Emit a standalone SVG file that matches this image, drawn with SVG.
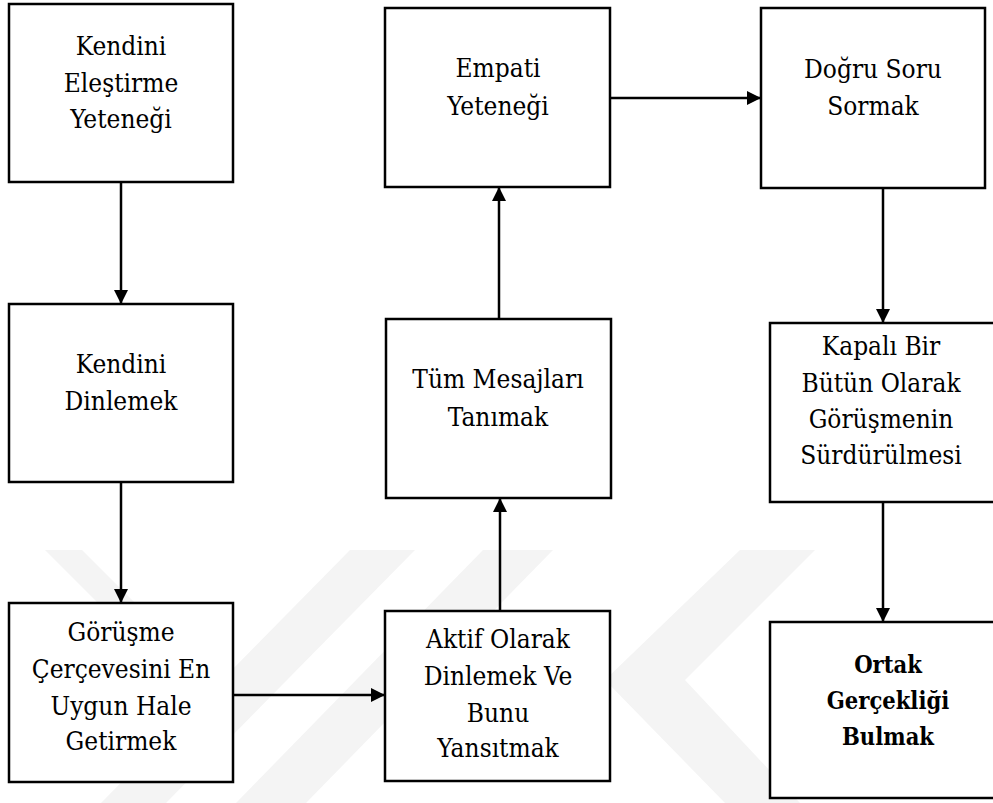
<svg xmlns="http://www.w3.org/2000/svg" width="993" height="803" viewBox="0 0 993 803">
  <style>
    .box { fill: #ffffff; stroke: #000000; stroke-width: 2.5; }
    .lbl { font-family: 'DejaVu Serif Condensed', 'DejaVu Serif', serif; font-stretch: condensed; font-size: 26px; fill: #000000; text-anchor: middle; }
    .bold { font-weight: bold; font-size: 23.5px; }
    .edge { stroke: #000000; stroke-width: 2.5; fill: none; marker-end: url(#arrow); }
    .wm { fill: #f4f4f4; }
  </style>
  <defs>
    <marker id="arrow" markerUnits="userSpaceOnUse" markerWidth="15" markerHeight="15" refX="14" refY="7" orient="auto">
      <path d="M0,0 L14,7 L0,14 z" fill="#000000"/>
    </marker>
  </defs>

  <rect width="993" height="803" fill="#ffffff"/>

  <!-- faint background mark -->
  <g id="backdrop">
    <polygon class="wm" points="45,550 82,550 210,678 173,678"/>
    <polygon class="wm" points="350,550 415,550 166,803 101,803"/>
    <polygon class="wm" points="483,550 553,550 306,803 236,803"/>
    <polygon class="wm" points="740,550 815,550 685,680 800,803 725,803 605,680"/>
  </g>

  <g id="connectors">
    <line class="edge" x1="121" y1="182" x2="121" y2="304"/>
    <line class="edge" x1="121" y1="482" x2="121" y2="603"/>
    <line class="edge" x1="233" y1="695" x2="385" y2="695"/>
    <line class="edge" x1="500" y1="611" x2="500" y2="498"/>
    <line class="edge" x1="499" y1="319" x2="499" y2="187"/>
    <line class="edge" x1="610" y1="98" x2="761" y2="98"/>
    <line class="edge" x1="883" y1="188" x2="883" y2="323"/>
    <line class="edge" x1="883" y1="502" x2="883" y2="622"/>
  </g>

  <g id="kendini-elestirme">
    <rect class="box" x="9" y="4" width="224" height="178"/>
    <text class="lbl" x="121" y="55">Kendini</text>
    <text class="lbl" x="121" y="91.5">Eleştirme</text>
    <text class="lbl" x="121" y="128">Yeteneği</text>
  </g>

  <g id="kendini-dinlemek">
    <rect class="box" x="9" y="304" width="224" height="178"/>
    <text class="lbl" x="121" y="373">Kendini</text>
    <text class="lbl" x="121" y="410">Dinlemek</text>
  </g>

  <g id="gorusme-cercevesi">
    <rect class="box" x="9" y="603" width="224" height="179"/>
    <text class="lbl" x="121" y="641">Görüşme</text>
    <text class="lbl" x="121" y="678">Çerçevesini En</text>
    <text class="lbl" x="121" y="715">Uygun Hale</text>
    <text class="lbl" x="121" y="750">Getirmek</text>
  </g>

  <g id="empati">
    <rect class="box" x="385" y="8" width="225" height="179"/>
    <text class="lbl" x="498" y="77">Empati</text>
    <text class="lbl" x="498" y="114.5">Yeteneği</text>
  </g>

  <g id="tum-mesajlar">
    <rect class="box" x="386" y="319" width="225" height="179"/>
    <text class="lbl" x="498" y="388">Tüm Mesajları</text>
    <text class="lbl" x="498" y="425.5">Tanımak</text>
  </g>

  <g id="aktif-dinleme">
    <rect class="box" x="385" y="611" width="225" height="170"/>
    <text class="lbl" x="498" y="648">Aktif Olarak</text>
    <text class="lbl" x="498" y="685">Dinlemek Ve</text>
    <text class="lbl" x="498" y="721.5">Bunu</text>
    <text class="lbl" x="498" y="756.5">Yansıtmak</text>
  </g>

  <g id="dogru-soru">
    <rect class="box" x="761" y="8" width="224" height="180"/>
    <text class="lbl" x="873" y="78">Doğru Soru</text>
    <text class="lbl" x="873" y="115">Sormak</text>
  </g>

  <g id="kapali-butun">
    <rect class="box" x="770" y="323" width="230" height="179"/>
    <text class="lbl" x="881" y="355">Kapalı Bir</text>
    <text class="lbl" x="881" y="391.5">Bütün Olarak</text>
    <text class="lbl" x="881" y="427.5">Görüşmenin</text>
    <text class="lbl" x="881" y="464">Sürdürülmesi</text>
  </g>

  <g id="ortak-gerceklik">
    <rect class="box" x="770" y="622" width="240" height="176"/>
    <text class="lbl bold" x="888" y="673">Ortak</text>
    <text class="lbl bold" x="888" y="709">Gerçekliği</text>
    <text class="lbl bold" x="888" y="745">Bulmak</text>
  </g>
</svg>
